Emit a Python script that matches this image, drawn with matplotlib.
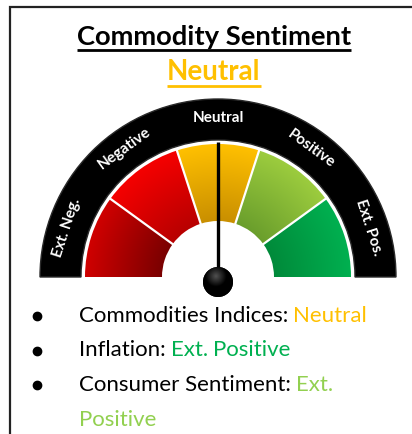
"""
Commodity sentiment gauge card.
Semi-circular gauge with five sentiment zones, a needle on the current
reading and a short bullet list of the underlying components.
"""

import numpy as np
import matplotlib
matplotlib.use("Agg")
import matplotlib.pyplot as plt
from matplotlib.patches import Wedge, Circle
from matplotlib.colors import to_rgb

# ---------------------------------------------------------------------------
# Data
# ---------------------------------------------------------------------------
TITLE = "Commodity Sentiment"
OVERALL = "Neutral"

zone_labels = ["Ext. Neg.", "Negative", "Neutral", "Positive", "Ext. Pos."]
# (inner colour, outer colour) for each zone, left to right
zone_inner = ["#7a0000", "#b80000", "#c98f00", "#6a9e2c", "#008a3a"]
zone_outer = ["#d00000", "#f50000", "#ffc000", "#9ccc3e", "#00b050"]

needle_zone = "Neutral"

items = ["Commodities Indices:", "Inflation:", "Consumer Sentiment:"]
statuses = ["Neutral", "Ext. Positive", "Ext. Positive"]
status_colors = ["#ffc000", "#00b050", "#92d050"]

# ---------------------------------------------------------------------------
# Layout (pixels, y up)
# ---------------------------------------------------------------------------
W, H = 412, 434
CX, CY = 218, H - 277
R_BAND_OUT, R_BAND_IN = 178, 137
R_ZONE_OUT, R_ZONE_IN = 133, 56
FONT = ["Lato", "DejaVu Sans"]

fig = plt.figure(figsize=(W / 100, H / 100), dpi=100)
ax = fig.add_axes([0, 0, 1, 1])
ax.set_xlim(0, W)
ax.set_ylim(0, H)
ax.set_aspect("equal")
ax.axis("off")

# card border (cropped on the right and bottom)
ax.plot([10, 10, W + 5], [-5, H - 7, H - 7], color="#222222", lw=1.6,
        solid_joinstyle="miter")

# ---------------------------------------------------------------------------
# Title
# ---------------------------------------------------------------------------
renderer = fig.canvas.get_renderer()


def underlined(x, y, text, color, size, gap=4.5, lw=2.0):
    t = ax.text(x, y, text, ha="center", va="baseline", fontsize=size,
                fontweight="bold", color=color, family=FONT)
    bb = t.get_window_extent(renderer).transformed(ax.transData.inverted())
    ax.plot([bb.x0, bb.x1], [y - gap, y - gap], color=color, lw=lw,
            solid_capstyle="butt")
    return t


underlined(214, H - 45, TITLE, "black", 19.7)
underlined(214, H - 80, OVERALL, "#ffc000", 20, gap=5.5)

# ---------------------------------------------------------------------------
# Gauge
# ---------------------------------------------------------------------------
n = len(zone_labels)
step = 180.0 / n

band = Wedge((CX, CY), R_BAND_OUT, 0, 180, width=R_BAND_OUT - R_BAND_IN,
             facecolor="black", edgecolor="#2a2a2a", lw=1.0, zorder=2)
ax.add_patch(band)

# radial gradient field shared by all zones
gx = np.linspace(CX - R_ZONE_OUT, CX + R_ZONE_OUT, 400)
gy = np.linspace(CY, CY + R_ZONE_OUT, 200)
GX, GY = np.meshgrid(gx, gy)
RR = np.hypot(GX - CX, GY - CY)
T = np.clip((RR - R_ZONE_IN) / (R_ZONE_OUT - R_ZONE_IN), 0, 1)[..., None]

for i, (c_in, c_out) in enumerate(zip(zone_inner, zone_outer)):
    th2 = 180 - i * step
    th1 = th2 - step
    wedge = Wedge((CX, CY), R_ZONE_OUT, th1, th2,
                  width=R_ZONE_OUT - R_ZONE_IN, facecolor="none",
                  edgecolor="none", zorder=3)
    ax.add_patch(wedge)
    rgb = np.array(to_rgb(c_in)) * (1 - T) + np.array(to_rgb(c_out)) * T
    im = ax.imshow(rgb, extent=[gx[0], gx[-1], gy[0], gy[-1]],
                   origin="lower", zorder=3, interpolation="bilinear")
    im.set_clip_path(wedge)

    # zone label in the black band
    mid = np.radians((th1 + th2) / 2)
    r_lab = (R_BAND_OUT + R_BAND_IN) / 2 + 1
    ax.text(CX + r_lab * np.cos(mid), CY + r_lab * np.sin(mid),
            zone_labels[i], rotation=np.degrees(mid) - 90,
            rotation_mode="anchor", ha="center", va="center",
            color="white", fontsize=11, fontweight="bold", family=FONT,
            zorder=5)

# white separators between zones
for k in range(1, n):
    a = np.radians(k * step)
    ax.plot([CX + R_ZONE_IN * np.cos(a), CX + (R_ZONE_OUT + 1) * np.cos(a)],
            [CY + R_ZONE_IN * np.sin(a), CY + (R_ZONE_OUT + 1) * np.sin(a)],
            color="white", lw=1.6, zorder=4)

# needle
idx = zone_labels.index(needle_zone)
ang = np.radians(180 - (idx + 0.5) * step)
ax.plot([CX, CX + (R_ZONE_OUT + 2) * np.cos(ang)],
        [CY - 5, CY + (R_ZONE_OUT + 2) * np.sin(ang)],
        color="black", lw=2.4, solid_capstyle="butt", zorder=6)

# knob with a soft highlight
KX, KY, KR = CX, CY - 5, 15
knob = Circle((KX, KY), KR, facecolor="black", edgecolor="none", zorder=7)
ax.add_patch(knob)
kx = np.linspace(KX - KR, KX + KR, 80)
ky = np.linspace(KY - KR, KY + KR, 80)
KXX, KYY = np.meshgrid(kx, ky)
d = np.hypot(KXX - (KX - 2), KYY - (KY + 6)) / KR
shade = np.clip(0.32 - 0.45 * d, 0, 1)[..., None] * np.ones(3)
kim = ax.imshow(shade, extent=[kx[0], kx[-1], ky[0], ky[-1]], origin="lower",
                zorder=8, interpolation="bilinear")
kim.set_clip_path(knob)

# ---------------------------------------------------------------------------
# Bullet list
# ---------------------------------------------------------------------------
X_BULLET, X_TEXT, X_MAX = 37, 79, 392
Y0, DY = H - 322, 34.5
LIST_SIZE = 16

inv = ax.transData.inverted()


def text_right(t):
    return t.get_window_extent(renderer).transformed(inv).x1


y = Y0
for label, status, col in zip(items, statuses, status_colors):
    ax.plot(X_BULLET, y + 6, "o", color="black", ms=6)
    t = ax.text(X_TEXT, y, label, ha="left", va="baseline",
                fontsize=LIST_SIZE, color="black", family=FONT)
    x = text_right(t) + 5
    for word in status.split(" "):
        w = ax.text(x, y, word, ha="left", va="baseline", fontsize=LIST_SIZE,
                    color=col, family=FONT)
        if text_right(w) > X_MAX:
            y -= DY
            w.set_position((X_TEXT, y))
        x = text_right(w) + 5
    y -= DY

fig.savefig("out.png", dpi=100)
